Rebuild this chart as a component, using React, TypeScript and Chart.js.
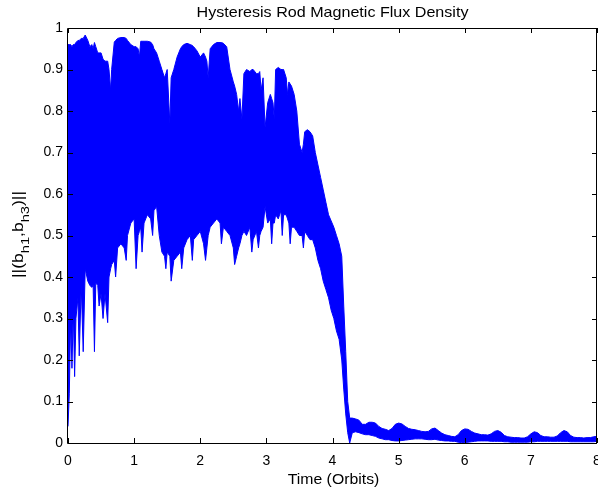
import React, { useEffect, useRef } from "react";
import { Chart, registerables } from "chart.js";

Chart.register(...registerables);

const TITLE = "Hysteresis Rod Magnetic Flux Density";
const X_LABEL = "Time (Orbits)";
const Y_LABEL_PARTS = [
  { t: "||(b", sub: false },
  { t: "h1", sub: true },
  { t: ",b", sub: false },
  { t: "h3", sub: true },
  { t: ")||", sub: false },
];

const X_MIN = 0;
const X_MAX = 8;
const Y_MIN = 0;
const Y_MAX = 1;
const X_TICKS = [0, 1, 2, 3, 4, 5, 6, 7, 8];
const Y_TICKS = [0, 0.1, 0.2, 0.3, 0.4, 0.5, 0.6, 0.7, 0.8, 0.9, 1];

// time in orbits
const TIME = [
  0.0, 0.02, 0.04, 0.06, 0.08, 0.1, 0.12, 0.15, 0.17, 0.2, 0.23, 0.26, 0.3, 0.33, 0.36, 0.38, 0.4, 0.42, 0.45, 0.47,
  0.5, 0.53, 0.56, 0.6, 0.62, 0.645, 0.66, 0.7, 0.72, 0.75, 0.8, 0.85, 0.88, 0.9, 0.95, 1.0, 1.03, 1.06, 1.08, 1.1,
  1.12, 1.15, 1.2, 1.25, 1.28, 1.3, 1.34, 1.38, 1.42, 1.46, 1.48, 1.5, 1.54, 1.56, 1.6, 1.65, 1.7, 1.72, 1.75, 1.8,
  1.85, 1.88, 1.9, 1.95, 2.0, 2.05, 2.08, 2.1, 2.12, 2.15, 2.2, 2.25, 2.3, 2.32, 2.35, 2.4, 2.45, 2.5, 2.52, 2.55,
  2.58, 2.6, 2.63, 2.66, 2.7, 2.75, 2.78, 2.8, 2.85, 2.88, 2.9, 2.92, 2.95, 2.98, 3.02, 3.06, 3.08, 3.1, 3.12, 3.14,
  3.18, 3.22, 3.24, 3.26, 3.3, 3.32, 3.34, 3.36, 3.38, 3.42, 3.46, 3.5, 3.54, 3.56, 3.58, 3.62, 3.66, 3.7, 3.74, 3.78,
  3.82, 3.86, 3.9, 3.94, 3.98, 4.02, 4.06, 4.1, 4.14, 4.17, 4.2, 4.23, 4.26, 4.3, 4.35, 4.4, 4.45, 4.5, 4.55, 4.6,
  4.65, 4.7, 4.75, 4.8, 4.85, 4.9, 4.95, 5.0, 5.05, 5.1, 5.15, 5.2, 5.25, 5.3, 5.35, 5.4, 5.45, 5.5, 5.55, 5.6,
  5.65, 5.7, 5.75, 5.8, 5.85, 5.9, 5.95, 6.0, 6.05, 6.1, 6.15, 6.2, 6.25, 6.3, 6.35, 6.4, 6.45, 6.5, 6.55, 6.6,
  6.65, 6.7, 6.75, 6.8, 6.85, 6.9, 6.95, 7.0, 7.05, 7.1, 7.15, 7.2, 7.25, 7.3, 7.35, 7.4, 7.45, 7.5, 7.55, 7.6,
  7.65, 7.7, 7.75, 7.8, 7.85, 7.9, 7.95, 8.0,
];

// upper envelope of ||(b_h1, b_h3)||
const UPPER = [
  0.96, 0.96, 0.96, 0.955, 0.96, 0.96, 0.965, 0.97, 0.97, 0.975, 0.975, 0.983, 0.97, 0.955, 0.96, 0.95, 0.965, 0.955, 0.94, 0.94,
  0.94, 0.925, 0.92, 0.92, 0.9, 0.85, 0.9, 0.966, 0.97, 0.975, 0.977, 0.977, 0.975, 0.97, 0.96, 0.955, 0.955, 0.95, 0.93, 0.968,
  0.968, 0.968, 0.968, 0.966, 0.96, 0.95, 0.94, 0.92, 0.9, 0.88, 0.89, 0.9, 0.77, 0.88, 0.9, 0.93, 0.95, 0.955, 0.96, 0.963,
  0.96, 0.958, 0.955, 0.945, 0.93, 0.94, 0.93, 0.92, 0.88, 0.95, 0.96, 0.965, 0.965, 0.965, 0.963, 0.955, 0.9, 0.87, 0.86, 0.84,
  0.8, 0.83, 0.78, 0.89, 0.9, 0.895, 0.9, 0.9, 0.89, 0.89, 0.895, 0.85, 0.88, 0.76, 0.82, 0.84, 0.83, 0.82, 0.78, 0.9,
  0.905, 0.9, 0.9, 0.9, 0.88, 0.84, 0.87, 0.865, 0.86, 0.84, 0.8, 0.72, 0.7, 0.72, 0.75, 0.755, 0.75, 0.74, 0.7, 0.67,
  0.64, 0.61, 0.58, 0.55, 0.535, 0.52, 0.5, 0.48, 0.45, 0.33, 0.22, 0.1, 0.06, 0.06, 0.058, 0.055, 0.045, 0.045, 0.05, 0.05,
  0.048, 0.04, 0.035, 0.033, 0.03, 0.035, 0.045, 0.048, 0.046, 0.04, 0.035, 0.033, 0.032, 0.03, 0.028, 0.027, 0.028, 0.034, 0.036, 0.03,
  0.024, 0.02, 0.018, 0.016, 0.015, 0.02, 0.03, 0.034, 0.033, 0.028, 0.024, 0.022, 0.02, 0.02, 0.019, 0.022, 0.028, 0.03, 0.026, 0.018,
  0.015, 0.014, 0.013, 0.013, 0.012, 0.012, 0.015, 0.022, 0.027, 0.025, 0.018, 0.015, 0.015, 0.014, 0.014, 0.017, 0.025, 0.03, 0.027, 0.018,
  0.014, 0.013, 0.013, 0.012, 0.013, 0.013, 0.015, 0.016,
];

// lower envelope of ||(b_h1, b_h3)||
const LOWER = [
  0.04, 0.12, 0.3, 0.18, 0.32, 0.16, 0.3, 0.35, 0.21, 0.38, 0.22, 0.42, 0.39, 0.38, 0.375, 0.38, 0.22, 0.385, 0.38, 0.33,
  0.36, 0.3, 0.36, 0.29, 0.4, 0.42, 0.43, 0.44, 0.4, 0.47, 0.48, 0.47, 0.44, 0.5, 0.53, 0.54, 0.42, 0.5, 0.51, 0.52,
  0.46, 0.53, 0.55, 0.54, 0.5, 0.56, 0.57, 0.5, 0.46, 0.45, 0.42, 0.46, 0.45, 0.39, 0.44, 0.45, 0.46, 0.42, 0.47, 0.49,
  0.5, 0.44, 0.49, 0.5, 0.51, 0.48, 0.44, 0.47, 0.5, 0.52, 0.53, 0.54, 0.53, 0.48, 0.52, 0.51, 0.5, 0.47, 0.43, 0.45,
  0.47, 0.48, 0.5, 0.51, 0.5, 0.52, 0.46, 0.49, 0.51, 0.47, 0.5, 0.51, 0.52, 0.57, 0.53, 0.54, 0.48, 0.53, 0.53, 0.55,
  0.54, 0.56, 0.5, 0.55, 0.55, 0.54, 0.53, 0.48, 0.52, 0.52, 0.51, 0.5, 0.5, 0.47, 0.51, 0.5, 0.49, 0.49, 0.47, 0.44,
  0.42, 0.39, 0.37, 0.35, 0.32, 0.3, 0.27, 0.25, 0.2, 0.13, 0.07, 0.025, 0.0, 0.025, 0.027, 0.025, 0.022, 0.02, 0.02, 0.018,
  0.016, 0.012, 0.01, 0.008, 0.008, 0.006, 0.005, 0.005, 0.006, 0.007, 0.008, 0.009, 0.01, 0.01, 0.01, 0.009, 0.008, 0.008, 0.009, 0.007,
  0.006, 0.005, 0.005, 0.004, 0.004, 0.002, 0.001, 0.001, 0.002, 0.003, 0.004, 0.005, 0.005, 0.005, 0.005, 0.004, 0.004, 0.004, 0.004, 0.003,
  0.003, 0.002, 0.002, 0.002, 0.002, 0.002, 0.002, 0.003, 0.003, 0.004, 0.004, 0.004, 0.004, 0.004, 0.004, 0.004, 0.004, 0.004, 0.004, 0.003,
  0.003, 0.003, 0.003, 0.003, 0.003, 0.003, 0.003, 0.004,
];

const FONT_FAMILY = '"Liberation Sans", Arial, Helvetica, sans-serif';
const LINE_COLOR = "#0000ff";

function drawStretched(ctx: CanvasRenderingContext2D, text: string, cx: number, y: number, size: number, sx: number) {
  ctx.save();
  ctx.font = `${size}px ${FONT_FAMILY}`;
  const w = ctx.measureText(text).width * sx;
  ctx.translate(cx - w / 2, y);
  ctx.scale(sx, 1);
  ctx.textAlign = "left";
  ctx.textBaseline = "alphabetic";
  ctx.fillText(text, 0, 0);
  ctx.restore();
}

const framePlugin = {
  id: "matlabFrame",
  afterDraw(chart: any) {
    const ctx: CanvasRenderingContext2D = chart.ctx;
    const { left, right, top, bottom } = chart.chartArea;
    const xs = chart.scales.x;
    const ys = chart.scales.y;
    ctx.save();
    ctx.strokeStyle = "#000000";
    ctx.lineWidth = 1;
    ctx.beginPath();
    ctx.rect(Math.round(left) - 0.5, Math.round(top) + 0.5, Math.round(right - left), Math.round(bottom - top));
    ctx.stroke();
    const tl = 5;
    ctx.beginPath();
    X_TICKS.forEach((v) => {
      const px = Math.round(xs.getPixelForValue(v)) + 0.5;
      ctx.moveTo(px, bottom);
      ctx.lineTo(px, bottom - tl);
      ctx.moveTo(px, top);
      ctx.lineTo(px, top + tl);
    });
    Y_TICKS.forEach((v) => {
      const py = Math.round(ys.getPixelForValue(v)) + 0.5;
      ctx.moveTo(left, py);
      ctx.lineTo(left + tl, py);
      ctx.moveTo(right, py);
      ctx.lineTo(right - tl, py);
    });
    ctx.stroke();

    ctx.fillStyle = "#000000";
    const cx = (left + right) / 2;
    drawStretched(ctx, TITLE, cx, 16.5, 14.5, 1.11);
    drawStretched(ctx, X_LABEL, cx + 1, 484, 14.5, 1.09);

    // y label with subscripts, rotated
    const cy = (top + bottom) / 2 - 1;
    const mainSize = 14;
    const subSize = 10.5;
    const mainSx = 1.25;
    const subSx = 1.4;
    const widths = Y_LABEL_PARTS.map((p) => {
      ctx.font = `${p.sub ? subSize : mainSize}px ${FONT_FAMILY}`;
      return ctx.measureText(p.t).width * (p.sub ? subSx : mainSx);
    });
    const total = widths.reduce((a, b) => a + b, 0);
    ctx.save();
    ctx.translate(22.5, cy);
    ctx.rotate(-Math.PI / 2);
    let x = -total / 2;
    Y_LABEL_PARTS.forEach((p, i) => {
      ctx.save();
      ctx.font = `${p.sub ? subSize : mainSize}px ${FONT_FAMILY}`;
      ctx.translate(x, p.sub ? 6 : 0);
      ctx.scale(p.sub ? subSx : mainSx, 1);
      ctx.textBaseline = "alphabetic";
      ctx.textAlign = "left";
      ctx.fillText(p.t, 0, 0);
      ctx.restore();
      x += widths[i];
    });
    ctx.restore();
    ctx.restore();
  },
};

export default function App() {
  const canvasRef = useRef<HTMLCanvasElement | null>(null);

  useEffect(() => {
    const canvas = canvasRef.current;
    if (!canvas) return;
    const upperPts = TIME.map((t, i) => ({ x: t, y: UPPER[i] }));
    const lowerPts = TIME.map((t, i) => ({ x: t, y: LOWER[i] }));
    const chart = new Chart(canvas, {
      type: "line",
      data: {
        datasets: [
          {
            label: "upper",
            data: upperPts,
            borderColor: LINE_COLOR,
            backgroundColor: LINE_COLOR,
            borderWidth: 1,
            borderJoinStyle: "miter",
            pointRadius: 0,
            tension: 0,
            fill: "+1",
          },
          {
            label: "lower",
            data: lowerPts,
            borderColor: LINE_COLOR,
            backgroundColor: LINE_COLOR,
            borderWidth: 1,
            borderJoinStyle: "miter",
            pointRadius: 0,
            tension: 0,
            fill: false,
          },
        ],
      },
      options: {
        animation: false,
        responsive: false,
        maintainAspectRatio: false,
        devicePixelRatio: 1,
        layout: { padding: { left: 0, right: 1, top: 28, bottom: 0 } },
        plugins: {
          legend: { display: false },
          title: { display: false },
          tooltip: { enabled: false },
        },
        scales: {
          x: {
            type: "linear",
            min: X_MIN,
            max: X_MAX,
            grid: { display: false, drawTicks: false },
            border: { display: false },
            ticks: {
              stepSize: 1,
              padding: 10,
              maxRotation: 0,
              autoSkip: false,
              color: "#000000",
              font: { family: FONT_FAMILY, size: 14 },
              callback: (v: any) => String(v),
            },
            afterFit: (s: any) => {
              s.height = 47;
              s.paddingLeft = 0;
              s.paddingRight = 0;
            },
          },
          y: {
            type: "linear",
            min: Y_MIN,
            max: Y_MAX,
            grid: { display: false, drawTicks: false },
            border: { display: false },
            ticks: {
              stepSize: 0.1,
              padding: 5,
              autoSkip: false,
              color: "#000000",
              font: { family: FONT_FAMILY, size: 14 },
              callback: (v: any) => String(Number(Number(v).toFixed(1))),
            },
            afterFit: (s: any) => {
              s.width = 68;
              s.paddingTop = 0;
              s.paddingBottom = 0;
            },
          },
        },
      },
      plugins: [framePlugin],
    });
    return () => chart.destroy();
  }, []);

  return (
    <div style={{ position: "fixed", left: 0, top: 0, width: 598, height: 490, background: "#ffffff" }}>
      <canvas ref={canvasRef} width={598} height={490} style={{ display: "block", width: 598, height: 490 }} />
    </div>
  );
}
